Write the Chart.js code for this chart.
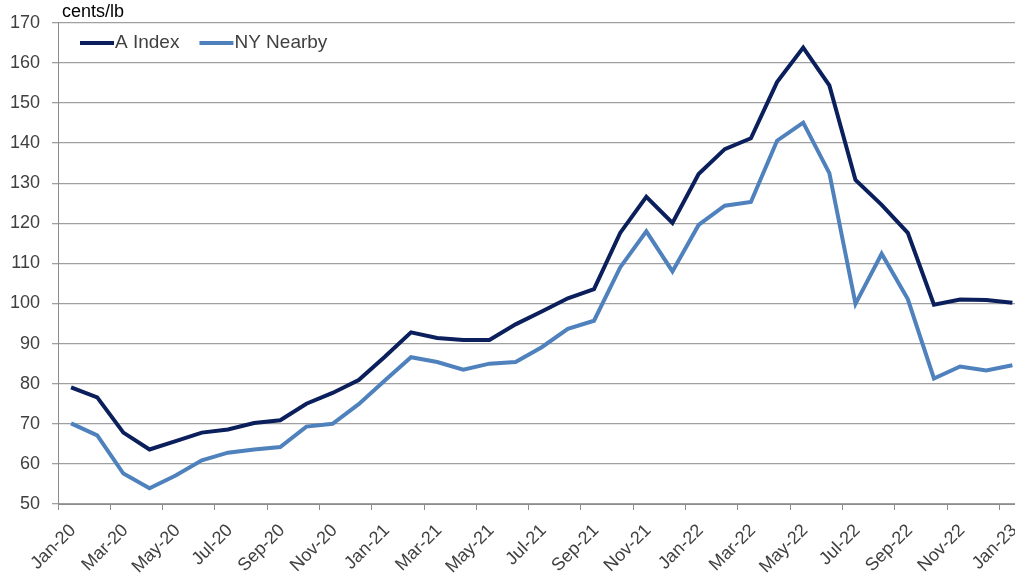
<!DOCTYPE html>
<html>
<head>
<meta charset="utf-8">
<script src="https://cdn.jsdelivr.net/npm/chart.js@4"></script>
<style>
  html, body { margin: 0; padding: 0; background: #fff; overflow: hidden; }
  #wrap { width: 1015px; height: 579px; position: relative; }
</style>
</head>
<body>
<div id="wrap"><canvas id="grafico"></canvas></div>
<script>
// meses (um ponto por mês)
const meses = [
  'Jan-20','Feb-20','Mar-20','Apr-20','May-20','Jun-20','Jul-20','Aug-20','Sep-20','Oct-20','Nov-20','Dec-20',
  'Jan-21','Feb-21','Mar-21','Apr-21','May-21','Jun-21','Jul-21','Aug-21','Sep-21','Oct-21','Nov-21','Dec-21',
  'Jan-22','Feb-22','Mar-22','Apr-22','May-22','Jun-22','Jul-22','Aug-22','Sep-22','Oct-22','Nov-22','Dec-22',
  'Jan-23'
];

const aIndex = [
  79.1, 76.6, 67.8, 63.6, 65.7, 67.8, 68.6, 70.2, 70.9, 75.0, 77.7, 80.9,
  86.7, 92.8, 91.4, 90.9, 90.9, 94.8, 98.0, 101.3, 103.6, 117.6, 126.6, 120.1,
  132.3, 138.5, 141.2, 155.2, 163.8, 154.4, 130.8, 124.6, 117.6, 99.7, 101.0, 100.9,
  100.2
];

const nyNearby = [
  70.1, 67.1, 57.6, 53.9, 57.1, 60.9, 62.8, 63.6, 64.2, 69.3, 70.0, 74.9,
  80.8, 86.6, 85.4, 83.5, 85.0, 85.4, 89.1, 93.7, 95.7, 109.0, 118.0, 108.0,
  119.6, 124.4, 125.3, 140.6, 145.1, 132.5, 99.9, 112.4, 101.1, 81.3, 84.3, 83.3,
  84.6
];

const ticksY = [50, 60, 70, 80, 90, 100, 110, 120, 130, 140, 150, 160, 170];

const corA = '#0a1f5c';
const corNY = '#4f81bd';
const corTexto = '#404040';
const fonte = '"Liberation Sans", Arial, sans-serif';

// legenda e unidade desenhadas à mão
const extras = {
  id: 'extras',
  afterDraw(chart) {
    const ctx = chart.ctx;
    ctx.save();
    ctx.fillStyle = '#000';
    ctx.font = '18px ' + fonte;
    ctx.textBaseline = 'middle';
    ctx.textAlign = 'left';
    ctx.fillText('cents/lb', 62, 12);

    ctx.font = '19px ' + fonte;
    ctx.fillStyle = corTexto;
    let x = 80;
    chart.data.datasets.forEach(ds => {
      ctx.strokeStyle = ds.borderColor;
      ctx.lineWidth = 4;
      ctx.beginPath();
      ctx.moveTo(x, 43);
      ctx.lineTo(x + 34, 43);
      ctx.stroke();
      ctx.fillText(ds.label, x + 35, 43);
      x += 35 + ctx.measureText(ds.label).width + 20;
    });
    ctx.restore();
  }
};

const ctx = document.getElementById('grafico').getContext('2d');
new Chart(ctx, {
  type: 'line',
  data: {
    datasets: [
      {
        label: 'A Index',
        data: aIndex.map((v, i) => ({ x: i, y: v })),
        borderColor: corA,
        backgroundColor: corA,
        borderWidth: 4,
        pointRadius: 0,
        tension: 0
      },
      {
        label: 'NY Nearby',
        data: nyNearby.map((v, i) => ({ x: i, y: v })),
        borderColor: corNY,
        backgroundColor: corNY,
        borderWidth: 4,
        pointRadius: 0,
        tension: 0
      }
    ]
  },
  options: {
    responsive: true,
    maintainAspectRatio: false,
    animation: false,
    layout: { padding: { top: 20, right: 0, left: 0, bottom: 0 } },
    plugins: {
      legend: { display: false },
      tooltip: { enabled: false }
    },
    scales: {
      x: {
        type: 'linear',
        min: -0.5,
        max: 36.1,
        afterBuildTicks: s => {
          s.ticks = [];
          for (let i = 0; i < meses.length; i += 2) s.ticks.push({ value: i - 0.5 });
        },
        afterFit: s => {
          s.height = 75;
          s.paddingLeft = 0;
          s.paddingRight = 0;
        },
        grid: { drawOnChartArea: false, color: '#8c8c8c', tickLength: 6 },
        border: { color: '#8c8c8c', width: 1 },
        ticks: {
          autoSkip: false,
          maxRotation: 45,
          minRotation: 45,
          labelOffset: 15,
          padding: 10,
          color: corTexto,
          font: { family: fonte, size: 18 },
          callback: v => meses[Math.round(v + 0.5)]
        }
      },
      y: {
        min: 50,
        max: 170,
        afterBuildTicks: s => { s.ticks = ticksY.map(v => ({ value: v })); },
        afterFit: s => { s.width = 58; },
        grid: { color: '#a0a0a0', tickLength: 6, lineWidth: 1.3 },
        border: { color: '#8c8c8c', width: 1 },
        ticks: {
          padding: 12,
          color: corTexto,
          font: { family: fonte, size: 18 }
        }
      }
    }
  },
  plugins: [extras]
});
</script>
</body>
</html>
